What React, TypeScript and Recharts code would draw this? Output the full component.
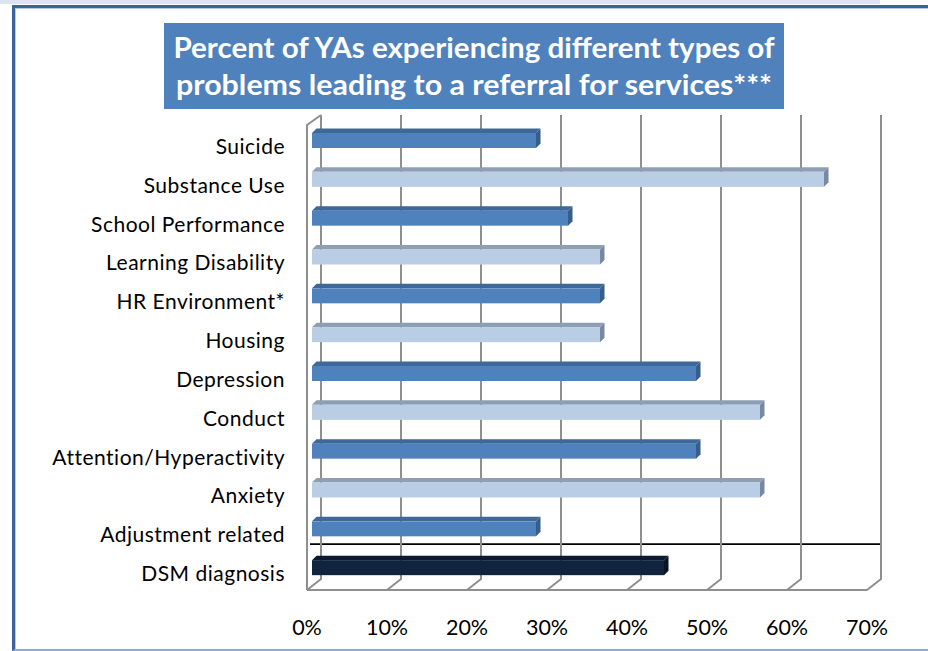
import React from 'react';
import { BarChart, Bar, XAxis, YAxis, CartesianGrid } from 'recharts';

const categories = [
  'Suicide',
  'Substance Use',
  'School Performance',
  'Learning Disability',
  'HR Environment*',
  'Housing',
  'Depression',
  'Conduct',
  'Attention/Hyperactivity',
  'Anxiety',
  'Adjustment related',
  'DSM diagnosis',
];
const percentValues = [28, 64, 32, 36, 36, 36, 48, 56, 48, 56, 28, 44];
const xTicks = [0, 10, 20, 30, 40, 50, 60, 70];
const titleLines = [
  'Percent of YAs experiencing different types of',
  'problems leading to a referral for services***',
];

const data = categories.map((name, i) => ({ name, value: percentValues[i] }));

const W = 928;
const H = 651;
const PLOT_TOP = 121;
const X_AXIS_H = 64;
const PLOT_BOTTOM = H - X_AXIS_H;
const BAND = (PLOT_BOTTOM - PLOT_TOP) / categories.length;
const FONT = 'Lato, "Open Sans", sans-serif';

const DEPTH_BACK = 9;
const DEPTH_FRONT = -5;
const GRID = '#8f8f8f';

const palettes = {
  dark: { front: '#4F81BD', top: '#3D6898', side: '#375D8A' },
  light: { front: '#B9CDE5', top: '#8E9FB4', side: '#7788A0' },
  navy: { front: '#10243E', top: '#0B1A2D', side: '#091525' },
};

function paletteFor(i: number) {
  if (i === categories.length - 1) return palettes.navy;
  return i % 2 === 0 ? palettes.dark : palettes.light;
}

const Bar3D = (props: any) => {
  const { x, y, width, height, index } = props;
  const p = paletteFor(index);
  const d = 4.5;
  const r = x + width;
  return (
    <g>
      <polygon
        points={`${x},${y} ${x + d},${y - d} ${r + d},${y - d} ${r},${y}`}
        fill={p.top}
      />
      <polygon
        points={`${r},${y} ${r + d},${y - d} ${r + d},${y + height - d} ${r},${y + height}`}
        fill={p.side}
      />
      <rect x={x} y={y} width={width} height={height} fill={p.front} />
    </g>
  );
};

const verticalLine = (props: any) => {
  const { x1, index } = props;
  const top = PLOT_TOP - 6;
  const bottom = PLOT_BOTTOM - 8;
  const front = PLOT_BOTTOM + 3;
  const bx = x1 + DEPTH_BACK;
  const fx = x1 + DEPTH_FRONT;
  return (
    <g key={`v-${index}`}>
      <polyline
        points={`${bx},${top} ${bx},${bottom} ${fx},${front}`}
        fill="none"
        stroke={GRID}
        strokeWidth={2}
      />
      {index === 0 && (
        <polyline
          points={`${bx},${top} ${fx},${top + 10} ${fx},${front}`}
          fill="none"
          stroke={GRID}
          strokeWidth={2}
        />
      )}
    </g>
  );
};

const horizontalLine = (props: any) => {
  const { x1, x2, y1, index } = props;
  const items: any[] = [];
  if (index === categories.length - 2) {
    const yy = y1 + BAND / 2 - 4;
    items.push(
      <line key="sep" x1={x1 - 2} x2={x2 + DEPTH_BACK} y1={yy} y2={yy} stroke="#000" strokeWidth={1.6} />
    );
  }
  if (index === categories.length - 1) {
    items.push(
      <line
        key="floor"
        x1={x1 + DEPTH_FRONT}
        x2={x2 + DEPTH_FRONT}
        y1={PLOT_BOTTOM + 3}
        y2={PLOT_BOTTOM + 3}
        stroke={GRID}
        strokeWidth={2}
      />
    );
  }
  return <g key={`h-${index}`}>{items}</g>;
};

const XTick = (props: any) => {
  const { x, payload } = props;
  return (
    <text
      x={x - 5}
      y={PLOT_BOTTOM + 40}
      textAnchor="middle"
      dominantBaseline="central"
      fontFamily={FONT}
      fontSize={21.5}
      fill="#000"
    >
      {`${payload.value}%`}
    </text>
  );
};

const YTick = (props: any) => {
  const { y, payload } = props;
  return (
    <text
      x={285}
      y={y + 5}
      textAnchor="end"
      dominantBaseline="central"
      fontFamily={FONT}
      fontSize={21}
      letterSpacing={0.5}
      fill="#000"
    >
      {payload.value}
    </text>
  );
};

export default function App() {
  return (
    <div style={{ position: 'absolute', left: 0, top: 0, width: W, height: H, background: '#fff', overflow: 'hidden' }}>
      <div style={{ position: 'absolute', left: 0, top: 0, width: 880, height: 4, background: '#DBE5F1' }} />
      <div
        style={{
          position: 'absolute',
          left: 12,
          top: 5,
          width: 940,
          height: 641,
          borderLeft: '3px solid #3A639C',
          borderTop: '3px solid #3A639C',
          borderBottom: '2px solid #8EAAD0',
          boxShadow: 'inset 1px 1px 0 0 #B6C9E2',
        }}
      />
      <svg style={{ position: 'absolute', left: 0, top: 0 }} width={W} height={H}>
        <rect x={164} y={23} width={620} height={86} fill="#4F81BD" />
        {titleLines.map((t, i) => (
          <text
            key={i}
            x={474}
            y={58 + i * 37}
            textAnchor="middle"
            fill="#fff"
            fontFamily={FONT}
            fontWeight="bold"
            fontSize={28.5}
            textLength={i === 0 ? 601 : 596}
            lengthAdjust="spacingAndGlyphs"
          >
            {t}
          </text>
        ))}
      </svg>
      <div style={{ position: 'absolute', left: 0, top: 0 }}>
        <BarChart
          width={W}
          height={H}
          data={data}
          layout="vertical"
          margin={{ top: PLOT_TOP, right: 56, bottom: 0, left: 0 }}
          barCategoryGap={0}
        >
          <CartesianGrid vertical={verticalLine} horizontal={horizontalLine} />
          <XAxis
            type="number"
            domain={[0, 70]}
            ticks={xTicks}
            height={X_AXIS_H}
            axisLine={false}
            tickLine={false}
            tickSize={0}
            tick={<XTick />}
            interval={0}
          />
          <YAxis
            type="category"
            dataKey="name"
            width={312}
            axisLine={false}
            tickLine={false}
            tickSize={0}
            tick={<YTick />}
            interval={0}
          />
          <Bar dataKey="value" barSize={15} shape={Bar3D} isAnimationActive={false} />
        </BarChart>
      </div>
    </div>
  );
}
